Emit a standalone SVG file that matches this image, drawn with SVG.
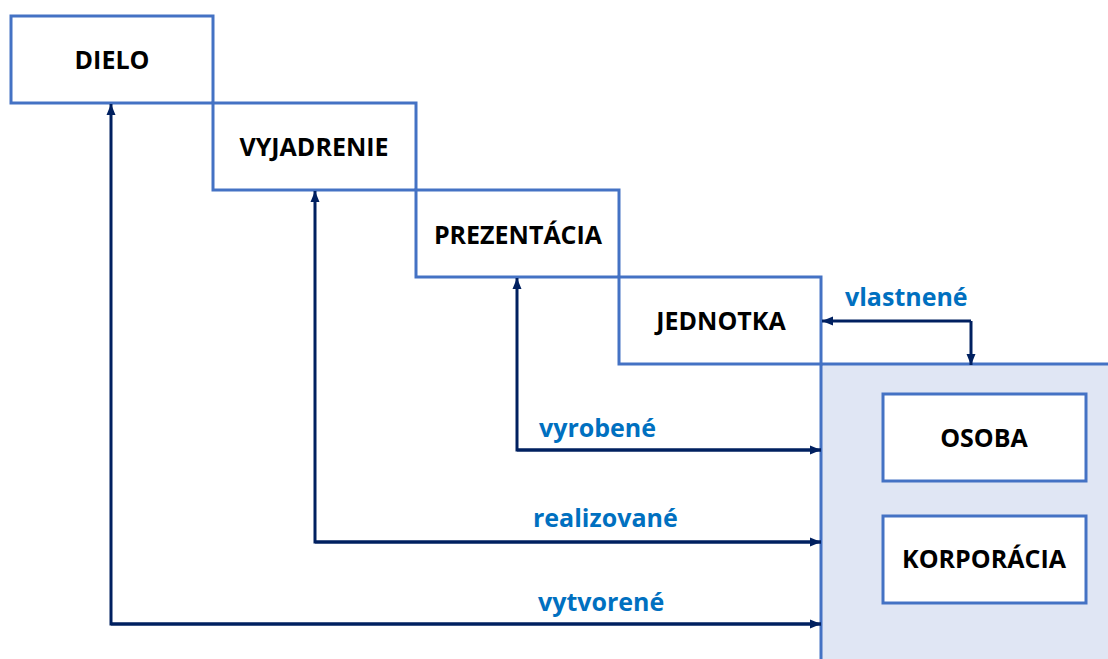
<svg xmlns="http://www.w3.org/2000/svg" width="1108" height="659" viewBox="0 0 1108 659">
  <style>
    .box { fill: #ffffff; stroke: #4472C4; stroke-width: 3; }
    .group { fill: #E0E6F4; stroke: #4472C4; stroke-width: 3; }
    .title { font-family: "Open Sans", "Noto Sans", sans-serif; font-weight: 700; font-size: 25px; fill: #000000; text-anchor: middle; }
    .rel { font-family: "Open Sans", "Noto Sans", sans-serif; font-weight: 700; font-size: 25px; fill: #0070C0; }
    .conn { fill: none; stroke: #002060; stroke-width: 3; marker-end: url(#arrow); }
  </style>
  <defs>
    <marker id="arrow" markerUnits="userSpaceOnUse" markerWidth="12" markerHeight="12" viewBox="0 0 12 12" refX="11" refY="6" orient="auto">
      <path d="M0,1.5 L11,6 L0,10.5 Z" fill="#002060"/>
    </marker>
  </defs>

  <rect width="1108" height="659" fill="#ffffff"/>

  <!-- owner group (persons and corporations) -->
  <g id="vlastnik">
    <rect class="group" x="821" y="364" width="300" height="310"/>
  </g>

  <g id="dielo">
    <rect class="box" x="11" y="16" width="202" height="87"/>
    <text class="title" x="112" y="69">DIELO</text>
  </g>
  <g id="vyjadrenie">
    <rect class="box" x="213" y="103" width="203" height="87"/>
    <text class="title" x="314" y="156">VYJADRENIE</text>
  </g>
  <g id="prezentacia">
    <rect class="box" x="416" y="190" width="203" height="87"/>
    <text class="title" x="518" y="244">PREZENTÁCIA</text>
  </g>
  <g id="jednotka">
    <rect class="box" x="619" y="277" width="202" height="87"/>
    <text class="title" x="721" y="330">JEDNOTKA</text>
  </g>
  <g id="osoba">
    <rect class="box" x="883" y="394" width="203" height="87"/>
    <text class="title" x="984" y="447">OSOBA</text>
  </g>
  <g id="korporacia">
    <rect class="box" x="883" y="516" width="203" height="87"/>
    <text class="title" x="984" y="568">KORPORÁCIA</text>
  </g>

  <!-- relations -->
  <g id="connectors">
    <path class="conn" d="M821,624 L111,624 L111,104"/>
    <path class="conn" d="M111,624 L821,624"/>
    <path class="conn" d="M821,542 L315,542 L315,191"/>
    <path class="conn" d="M315,542 L821,542"/>
    <path class="conn" d="M821,450 L517,450 L517,278"/>
    <path class="conn" d="M517,450 L821,450"/>
    <path class="conn" d="M971,321 L822,321"/>
    <path class="conn" d="M971,321 L971,365"/>
    <text class="rel" x="845" y="306">vlastnené</text>
    <text class="rel" x="539" y="437">vyrobené</text>
    <text class="rel" x="533" y="527">realizované</text>
    <text class="rel" x="538" y="611">vytvorené</text>
  </g>
</svg>
